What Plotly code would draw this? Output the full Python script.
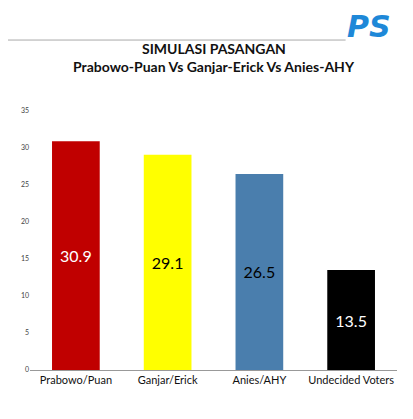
import plotly.graph_objects as go

categories = ["Prabowo/Puan", "Ganjar/Erick", "Anies/AHY", "Undecided Voters"]
values = [30.9, 29.1, 26.5, 13.5]
bar_colors = ["#c00000", "#ffff00", "#4a7ead", "#000000"]
label_colors = ["white", "black", "black", "white"]

fig = go.Figure(go.Bar(
    x=categories, y=values,
    marker=dict(color=bar_colors, line=dict(width=0)),
    text=[f"{v}" for v in values],
    textposition="inside", insidetextanchor="middle",
    textfont=dict(size=16, color=label_colors, family="Lato, Liberation Sans"),
))

# page has an 8px body margin, so the figure is made 8px smaller
fig.update_layout(
    width=405, height=411,
    margin=dict(l=22, r=16, t=103, b=49, autoexpand=False),
    paper_bgcolor="white", plot_bgcolor="white",
    bargap=0.48, showlegend=False,
    font=dict(family="Lato, Liberation Sans", color="#222"),
    yaxis=dict(range=[0, 35], dtick=5, showgrid=False, tickfont=dict(size=7, color="#444"),
               ticks="", zeroline=False, automargin=False),
    xaxis=dict(showline=True, linecolor="#999", linewidth=1, automargin=False,
               tickfont=dict(size=11, color="#111")),
)

fig.add_annotation(text="<b>SIMULASI PASANGAN</b>", x=0.5, xref="paper", y=1.0, yref="paper",
                   yshift=73, showarrow=False, font=dict(size=14, color="#111"))
fig.add_annotation(text="<b>Prabowo-Puan Vs Ganjar-Erick Vs Anies-AHY</b>", x=0.5, xref="paper", y=1.0,
                   yref="paper", yshift=55, showarrow=False, font=dict(size=14, color="#111"))
# logo approximation
fig.add_annotation(text="<b><i>PS</i></b>", x=1.0, xref="paper", y=1.0, yref="paper", xanchor="right",
                   yshift=104, xshift=-4, showarrow=False, font=dict(size=30, color="#1e88d8", family="DejaVu Sans"))
# gray rule under logo
fig.add_shape(type="line", xref="paper", yref="paper", x0=-0.06, x1=0.86, y0=1.274, y1=1.274,
              line=dict(color="#aaa", width=1))

fig.write_html("out.html")
